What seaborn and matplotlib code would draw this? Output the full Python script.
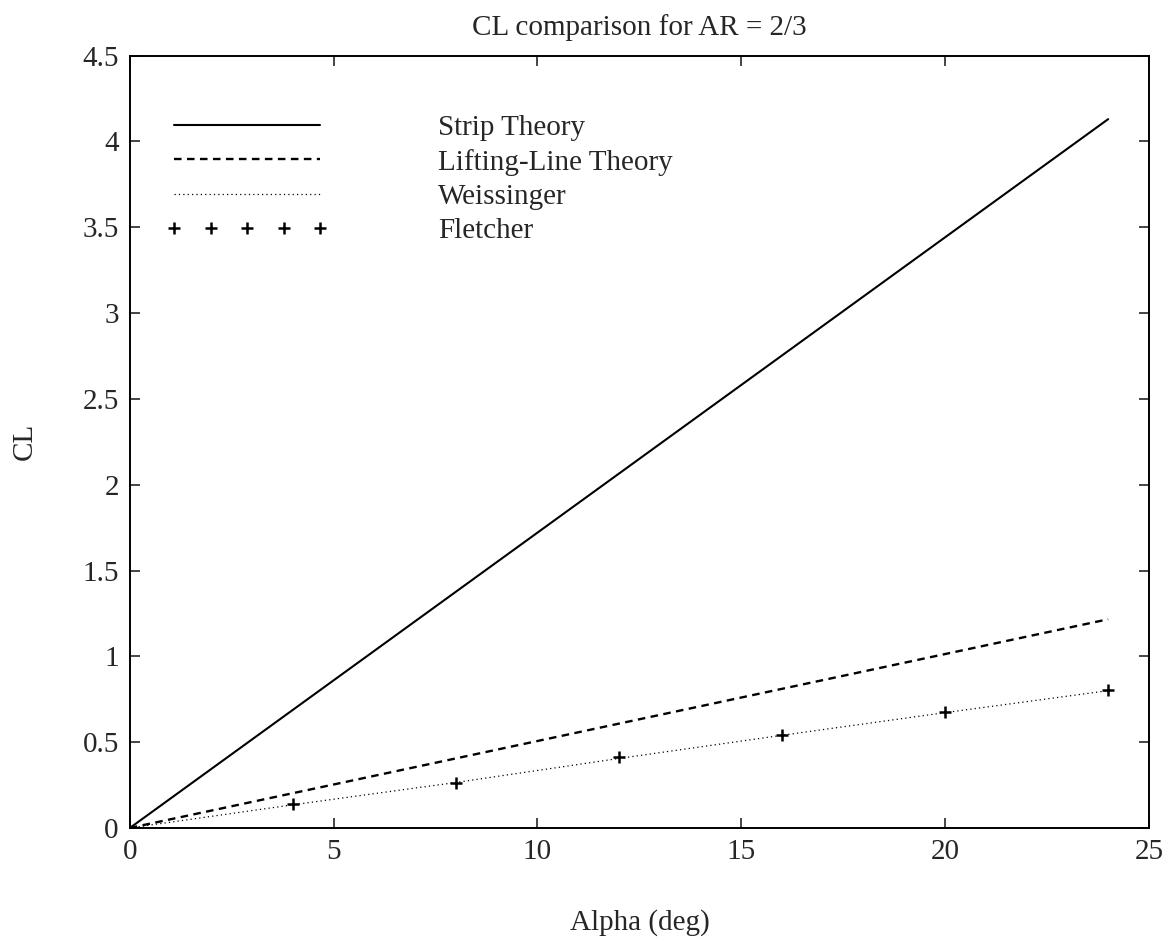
import seaborn as sns
import matplotlib
matplotlib.use("Agg")
import matplotlib.pyplot as plt

# CL vs alpha
alpha_line = [0, 24]
cl_strip = [0, 4.13]
cl_lifting_line = [0, 1.216]

alpha_pts = [0, 4, 8, 12, 16, 20, 24]
cl_weissinger = [0, 0.135, 0.265, 0.405, 0.54, 0.672, 0.80]

alpha_fletcher = [4, 8, 12, 16, 20, 24]
cl_fletcher = [0.14, 0.264, 0.412, 0.542, 0.674, 0.804]

x_ticks = [0, 5, 10, 15, 20, 25]
y_ticks = [0, 0.5, 1, 1.5, 2, 2.5, 3, 3.5, 4, 4.5]
y_ticklabels = ['0', '0.5', '1', '1.5', '2', '2.5', '3', '3.5', '4', '4.5']

sns.set_style("ticks")
plt.rcParams['font.family'] = ['Liberation Serif', 'DejaVu Serif']

fig = plt.figure(figsize=(11.7, 9.43), dpi=100)
ax = fig.add_axes([0.111, 0.122, 0.871, 0.819])

sns.lineplot(x=alpha_line, y=cl_strip, ax=ax, color='k', lw=1.5,
             label='Strip Theory')
sns.lineplot(x=alpha_line, y=cl_lifting_line, ax=ax, color='k', lw=1.7,
             linestyle=(0, (3.2, 2.3)), label='Lifting-Line Theory')
sns.lineplot(x=alpha_pts, y=cl_weissinger, ax=ax, color='k', lw=0.9,
             linestyle=(0, (1, 2.5)), label='Weissinger')
sns.lineplot(x=alpha_fletcher, y=cl_fletcher, ax=ax, color='k',
             linestyle='', marker='+', markersize=9, markeredgewidth=1.8,
             markeredgecolor='k', label='Fletcher')

ax.set_xlim(0, 25)
ax.set_ylim(0, 4.5)
ax.set_xticks(x_ticks)
ax.set_yticks(y_ticks)
ax.set_yticklabels(y_ticklabels)
ax.tick_params(direction='in', length=7, width=1.2, labelsize=21,
               top=True, right=True, pad=8)
for s in ax.spines.values():
    s.set_linewidth(1.4)
    s.set_color('k')

ax.set_title('CL comparison for AR = 2/3', fontsize=21, pad=15)
ax.set_xlabel('Alpha (deg)', fontsize=21, labelpad=32)
ax.set_ylabel('CL', fontsize=21, labelpad=32)

ax.legend(loc='upper left', bbox_to_anchor=(0.035, 0.924), frameon=False,
          fontsize=21, handlelength=5.6, handletextpad=3.75, numpoints=5,
          labelspacing=0.27, borderaxespad=0, borderpad=0)

fig.savefig('out.png', dpi=100)
